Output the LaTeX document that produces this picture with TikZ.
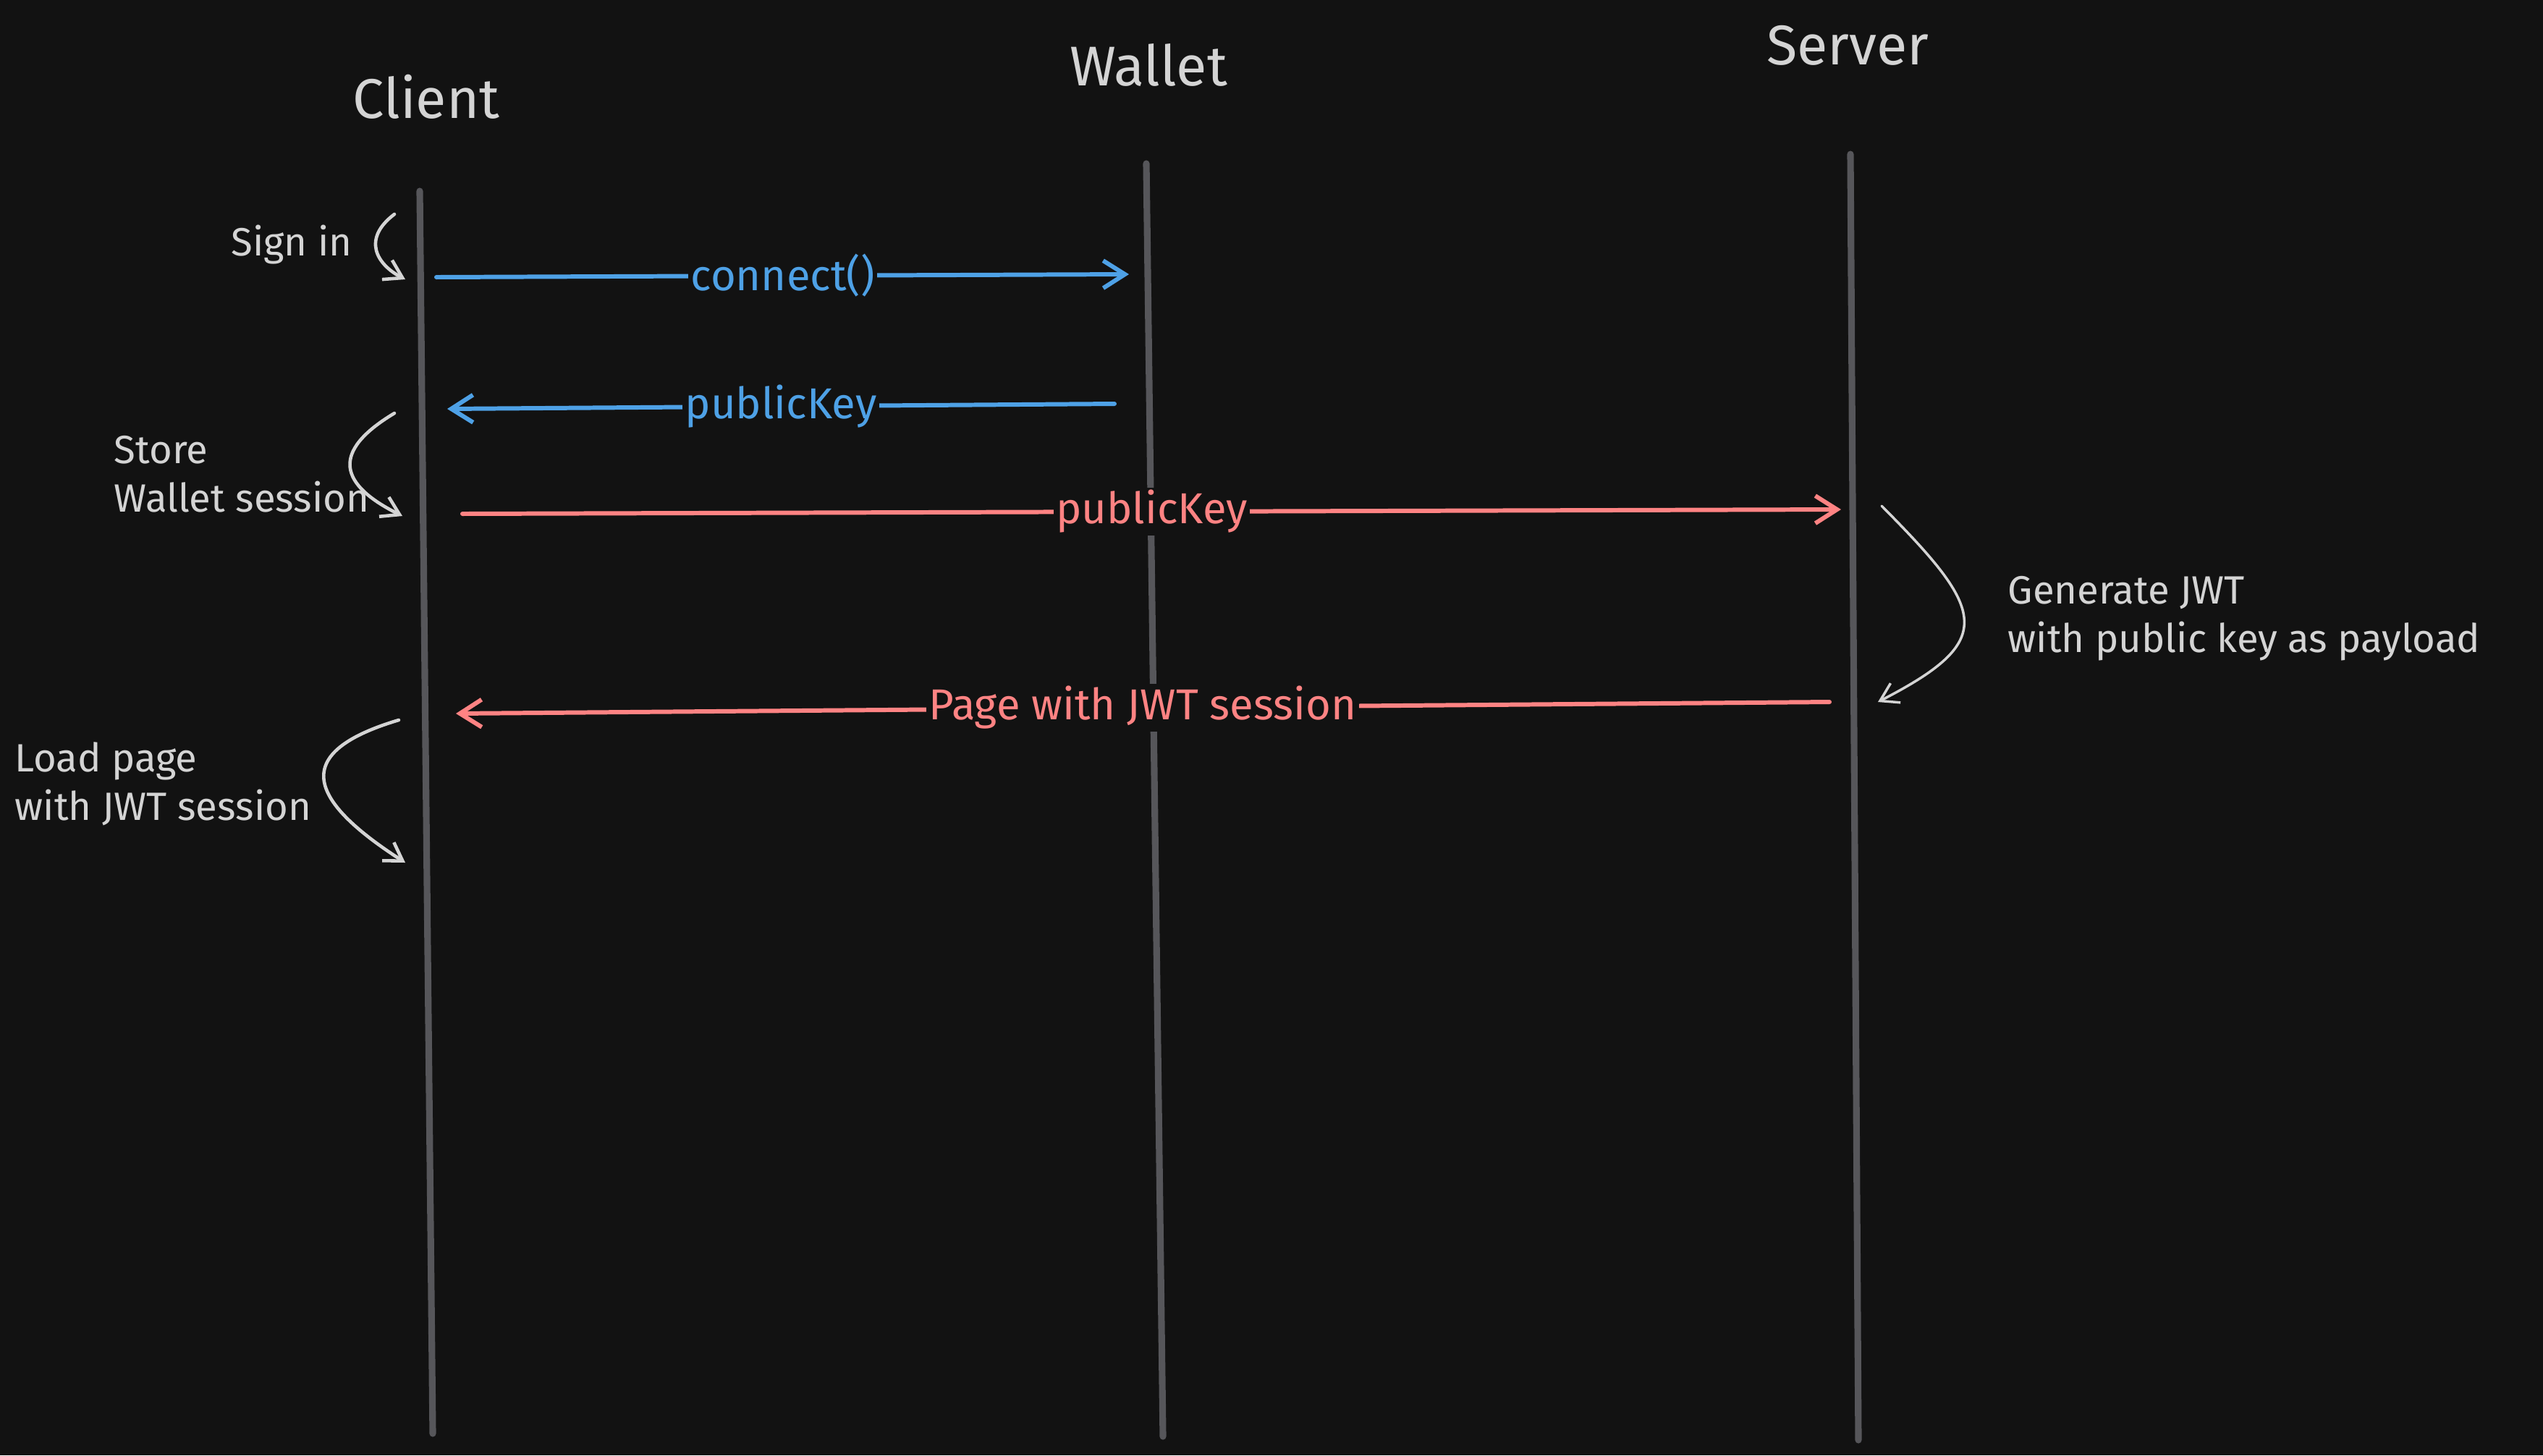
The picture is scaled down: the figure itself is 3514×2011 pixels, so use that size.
\documentclass[tikz,border=0pt]{standalone}
\usepackage{fontspec}
\setmainfont{Fira Sans}
\usetikzlibrary{positioning,arrows.meta}
\definecolor{bg}{HTML}{121212}
\definecolor{life}{HTML}{56565A}
\definecolor{msgblue}{HTML}{4EA1E6}
\definecolor{msgred}{HTML}{FF8383}
\definecolor{note}{HTML}{D4D4D4}

\begin{document}
\begin{tikzpicture}[%
    x=0.01cm,
    y=-0.01cm,
    >={Straight Barb[length=0.3cm,width=0.38cm]},
    actor/.style={%
      text=note,
      font=\fontsize{22}{26}\selectfont
    },
    lifeline/.style={draw=life, line width=2.6pt, line cap=round},
    msg/.style={->, line width=1.7pt, line cap=round},
    msglabel/.style={fill=bg, inner sep=1pt, font=\fontsize{17}{20}\selectfont},
    remark/.style={%
      text=note,
      align=left,
      inner sep=0pt,
      font=\fontsize{15.5}{19}\selectfont
    },
    hint/.style={%
      draw=note,
      line width=1.3pt,
      line cap=round,
      -{Straight Barb[length=0.24cm,width=0.3cm]}
    }
  ]
  \useasboundingbox[fill=bg] (0,0) rectangle (3514,2011);
  % Nodes: 
    \node[actor] (client) at (589,134)  {Client};
    \node[actor] (wallet) at (1587,90)  {Wallet};
    \node[actor] (server) at (2553,63)  {Server};
    \node[remark] (signin) at (403,338) {Sign in};
    \node[remark, anchor=west] (store) at (157,655)  {Store\\Wallet session};
    \node[remark, anchor=west] (load)  at (20,1083)  {Load page\\with JWT session};
    \node[remark, anchor=west] (gen)   at (2774,855) {Generate JWT\\with public key as payload};
  % Coordinates: 
    \coordinate (ctop) at (580,264);   \coordinate (cbot) at (598,1981);
    \coordinate (wtop) at (1584,226);  \coordinate (wbot) at (1607,1985);
    \coordinate (stop) at (2557,213);  \coordinate (sbot) at (2568,1990);
    \coordinate (m1a) at (603,383);    \coordinate (m1b) at (1560,379);
    \coordinate (m2a) at (1540,558);   \coordinate (m2b) at (618,565);
    \coordinate (m3a) at (639,710);    \coordinate (m3b) at (2544,704);
    \coordinate (m4a) at (2528,970);   \coordinate (m4b) at (630,986);
    \coordinate (h1a) at (545,296);    \coordinate (h1b) at (560,386);
    \coordinate (h2a) at (545,571);    \coordinate (h2b) at (556,713);
    \coordinate (h3a) at (551,995);    \coordinate (h3b) at (560,1192);
    \coordinate (h4a) at (2600,699);   \coordinate (h4b) at (2595,970);
  % Paths: 
    \path[lifeline] (ctop) -- (cbot)
                    (wtop) -- (wbot)
                    (stop) -- (sbot);
    \path (m1a) edge[msg, msgblue] node[msglabel, text=msgblue] {connect()} (m1b)
          (m2a) edge[msg, msgblue] node[msglabel, text=msgblue] {publicKey} (m2b)
          (m3a) edge[msg, msgred]  node[msglabel, text=msgred] {publicKey} (m3b)
          (m4a) edge[msg, msgred]  node[msglabel, text=msgred] {Page with JWT session} (m4b);
    \draw[hint] (h1a) .. controls (500,330) and (520,365) .. (h1b);
    \draw[hint] (h2a) .. controls (455,625) and (470,670) .. (h2b);
    \draw[hint] (h3a) .. controls (400,1040) and (425,1105) .. (h3b);
    \draw[hint, line width=1pt] (h4a) .. controls (2745,845) and (2760,885) .. (h4b);
\end{tikzpicture}
\end{document}
